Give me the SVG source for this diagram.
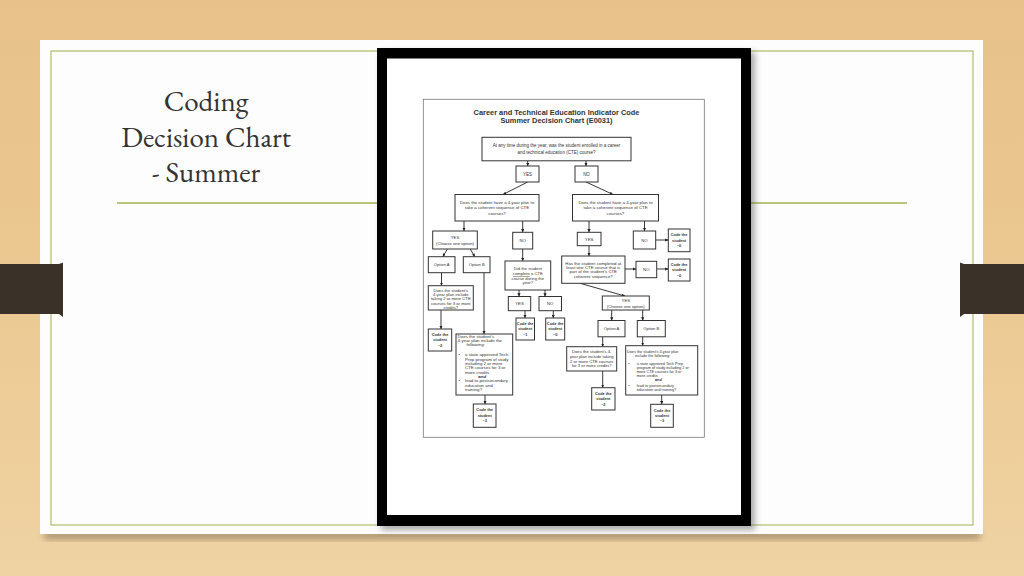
<svg xmlns="http://www.w3.org/2000/svg" width="1024" height="576" viewBox="0 0 1024 576">
<defs>
<style>
.box{fill:#fff;stroke:#333;stroke-width:1}
.t{font-family:"Liberation Sans",Arial,sans-serif;fill:#333;text-anchor:middle}
.l{font-family:"Liberation Sans",Arial,sans-serif;fill:#333;text-anchor:start}
.b{font-weight:bold}
.conn{stroke:#222;stroke-width:0.9;fill:none;marker-end:url(#ah)}
.title{font-family:"EB Garamond","Liberation Serif","Times New Roman",serif;fill:#333;text-anchor:middle;font-size:29px}
</style>
<marker id="ah" viewBox="0 0 6 6" refX="6" refY="3" markerWidth="3.2" markerHeight="3.2" orient="auto" markerUnits="userSpaceOnUse"><path d="M0,0 L6,3 L0,6 z" fill="#222"/></marker>
<linearGradient id="wood" x1="0" y1="0" x2="0" y2="1">
<stop offset="0" stop-color="#e7c189"/>
<stop offset="0.5" stop-color="#ecc992"/>
<stop offset="1" stop-color="#efd3a3"/>
</linearGradient>
<filter id="sh" x="-10%" y="-10%" width="130%" height="130%"><feGaussianBlur stdDeviation="3"/></filter>
</defs>

<g id="background">
<rect x="0" y="0" width="1024" height="576" fill="url(#wood)"/>
<rect x="44" y="530" width="936" height="10" fill="#6b5a45" opacity="0.45" filter="url(#sh)"/>
<rect x="40" y="40" width="943" height="494" fill="#fdfdfd"/>
<rect x="51" y="51" width="922" height="474" fill="none" stroke="#9fb24c" stroke-width="1"/>
<line x1="117" y1="203" x2="907" y2="203" stroke="#9fb24c" stroke-width="1.5"/>
</g>

<g id="tabs">
<path d="M0,264 H59 L63,262.5 V317 L59,314 H0 Z" fill="#3a3129"/>
<path d="M1024,264 H964 L960,262.5 V317 L964,314 H1024 Z" fill="#3a3129"/>
</g>

<g id="slide-title">
<text class="title" x="206" y="111">Coding</text>
<text class="title" x="206" y="147">Decision Chart</text>
<text class="title" x="206" y="182">- Summer</text>
</g>

<g id="frame">
<rect x="381" y="52" width="374" height="478" fill="#555" opacity="0.5" filter="url(#sh)"/>
<rect x="377" y="48" width="374" height="478" fill="#000"/>
<rect x="387" y="58.5" width="354" height="456.5" fill="#fff"/>
<rect x="423.3" y="99.3" width="281" height="338" fill="none" stroke="#777" stroke-width="0.8"/>
</g>

<g id="chart-title">
<text class="t b" x="556.5" y="115.3" font-size="7.4">Career and Technical Education Indicator Code</text>
<text class="t b" x="556.5" y="123.3" font-size="7.4">Summer Decision Chart (E0031)</text>
</g>

<g id="connectors">
<line class="conn" x1="527.7" y1="160.8" x2="527.7" y2="166"/>
<line class="conn" x1="586" y1="160.8" x2="586" y2="166"/>
<line class="conn" x1="527.7" y1="182" x2="503" y2="194.5"/>
<line class="conn" x1="586" y1="182" x2="613" y2="194.5"/>
<line class="conn" x1="464" y1="221" x2="464" y2="231"/>
<line class="conn" x1="522.7" y1="221" x2="522.7" y2="232.3"/>
<line class="conn" x1="589" y1="221" x2="589" y2="232.3"/>
<line class="conn" x1="644.5" y1="221" x2="644.5" y2="231"/>
<line class="conn" x1="655.7" y1="240" x2="668.3" y2="240"/>
<line class="conn" x1="447.4" y1="249" x2="442.8" y2="256.7"/>
<line class="conn" x1="470.3" y1="249" x2="474.8" y2="256.7"/>
<line class="conn" x1="441.5" y1="272.7" x2="441.5" y2="285.7"/>
<line class="conn" x1="441" y1="310" x2="441" y2="329"/>
<line class="conn" x1="484" y1="272.7" x2="484" y2="334"/>
<line class="conn" x1="485" y1="395" x2="485" y2="404"/>
<line class="conn" x1="522.7" y1="249" x2="522.7" y2="261"/>
<line class="conn" x1="519" y1="290" x2="519" y2="296.5"/>
<line class="conn" x1="545" y1="290" x2="545" y2="296.5"/>
<line class="conn" x1="525" y1="310.7" x2="525" y2="318"/>
<line class="conn" x1="553.3" y1="310.7" x2="553.3" y2="318"/>
<line class="conn" x1="589" y1="245.7" x2="589" y2="256"/>
<line class="conn" x1="625" y1="269" x2="636" y2="269"/>
<line class="conn" x1="656.7" y1="269" x2="668.3" y2="269"/>
<line class="conn" x1="580" y1="283.3" x2="625" y2="296"/>
<line class="conn" x1="611.7" y1="310" x2="611.7" y2="320.5"/>
<line class="conn" x1="642.7" y1="310" x2="642.7" y2="320.5"/>
<line class="conn" x1="602.7" y1="336.8" x2="602.7" y2="346.7"/>
<line class="conn" x1="642.7" y1="336.8" x2="642.7" y2="345.7"/>
<line class="conn" x1="602.7" y1="371" x2="602.7" y2="387.7"/>
<line class="conn" x1="661.7" y1="395" x2="661.7" y2="404.3"/>
</g>

<g id="n-start">
<rect class="box" x="482" y="137.3" width="149" height="23.5"/>
<text class="t" x="556.5" y="147" font-size="4.5">At any time during the year, was the student enrolled in a career</text>
<text class="t" x="556.5" y="154" font-size="4.5">and technical education (CTE) course?</text>
</g>
<g id="n-yes1"><rect class="box" x="516" y="166" width="23" height="16"/><text class="t" x="527.5" y="175.6" font-size="4.5">YES</text></g>
<g id="n-no1"><rect class="box" x="575" y="166" width="23" height="16"/><text class="t" x="586.5" y="175.6" font-size="4.5">NO</text></g>

<g id="n-lq">
<rect class="box" x="455" y="194.5" width="84" height="26.5"/>
<text class="t" x="497" y="204" font-size="4.3">Does the student have a 4-year plan to</text>
<text class="t" x="497" y="209.4" font-size="4.3">take a coherent sequence of CTE</text>
<text class="t" x="497" y="214.6" font-size="4.3">courses?</text>
</g>
<g id="n-rq">
<rect class="box" x="572.5" y="194.5" width="86" height="26.5"/>
<text class="t" x="615.5" y="204" font-size="4.3">Does the student have a 4-year plan to</text>
<text class="t" x="615.5" y="209.4" font-size="4.3">take a coherent sequence of CTE</text>
<text class="t" x="615.5" y="214.6" font-size="4.3">courses?</text>
</g>

<g id="n-lyes">
<rect class="box" x="432.7" y="231" width="44.6" height="18"/>
<text class="t" x="455" y="238.6" font-size="4.2">YES</text>
<text class="t" x="455" y="245" font-size="4.2">(Choose one option)</text>
</g>
<g id="n-mno"><rect class="box" x="512.7" y="232.3" width="20" height="16.7"/><text class="t" x="522.7" y="242.2" font-size="4.3">NO</text></g>
<g id="n-lopta"><rect class="box" x="428.3" y="256.7" width="26.7" height="16"/><text class="t" x="441.7" y="266.2" font-size="4.1">Option A</text></g>
<g id="n-loptb"><rect class="box" x="463.3" y="256.7" width="26.7" height="16"/><text class="t" x="476.7" y="266.2" font-size="4.1">Option B</text></g>

<g id="n-did">
<rect class="box" x="505" y="261" width="45.7" height="29"/>
<text class="t" x="527.8" y="270.3" font-size="4.2">Did the student</text>
<text class="t" x="527.8" y="275" font-size="4.2"><tspan text-decoration="underline">complete</tspan> a CTE</text>
<text class="t" x="527.8" y="279.7" font-size="4.2">course during the</text>
<text class="t" x="527.8" y="284.4" font-size="4.2">year?</text>
</g>

<g id="n-lq2">
<rect class="box" x="428.3" y="285.7" width="45" height="24.3"/>
<text class="t" x="450.8" y="291.6" font-size="4.2">Does the student's</text>
<text class="t" x="450.8" y="295.9" font-size="4.2">4-year plan include</text>
<text class="t" x="450.8" y="300.2" font-size="4.2">taking 2 or more CTE</text>
<text class="t" x="450.8" y="304.5" font-size="4.2">courses for 3 or more</text>
<text class="t" x="450.8" y="308.8" font-size="4.2">credits?</text>
</g>

<g id="n-myes2"><rect class="box" x="508.3" y="296.5" width="22.4" height="14.2"/><text class="t" x="519.5" y="305.2" font-size="4.3">YES</text></g>
<g id="n-mno2"><rect class="box" x="539" y="296.5" width="22.5" height="14.2"/><text class="t" x="550.2" y="305.2" font-size="4.3">NO</text></g>

<g id="n-code1">
<rect class="box" x="516" y="318" width="18.5" height="22"/>
<text class="t b" x="525.2" y="325" font-size="3.9">Code the</text>
<text class="t b" x="525.2" y="330.2" font-size="3.9">student</text>
<text class="t b" x="525.2" y="335.6" font-size="3.9">–1</text>
</g>
<g id="n-code0m">
<rect class="box" x="545.7" y="318" width="19" height="22"/>
<text class="t b" x="555.2" y="325" font-size="3.9">Code the</text>
<text class="t b" x="555.2" y="330.2" font-size="3.9">student</text>
<text class="t b" x="555.2" y="335.6" font-size="3.9">–0</text>
</g>
<g id="n-code2l">
<rect class="box" x="428.3" y="329" width="23.4" height="22"/>
<text class="t b" x="440" y="336" font-size="3.9">Code the</text>
<text class="t b" x="440" y="341.2" font-size="3.9">student</text>
<text class="t b" x="440" y="346.6" font-size="3.9">–2</text>
</g>

<g id="n-bigl">
<rect class="box" x="456" y="334" width="56.7" height="61"/>
<text class="l" x="457.6" y="338" font-size="4.4">Does the student's</text>
<text class="l" x="457.6" y="342.2" font-size="4.4">4-year plan include the</text>
<text class="l" x="466.5" y="346.4" font-size="4.4">following:</text>
<text class="l" x="458.6" y="356.3" font-size="4.4">•</text>
<text class="l" x="465" y="356.3" font-size="4.4">a state approved Tech</text>
<text class="l" x="465" y="360.6" font-size="4.4">Prep program of study</text>
<text class="l" x="465" y="364.9" font-size="4.4">including 2 or more</text>
<text class="l" x="465" y="369.2" font-size="4.4">CTE courses for 3 or</text>
<text class="l" x="465" y="373.5" font-size="4.4">more credits</text>
<text class="l b" x="478.3" y="377.8" font-size="4.4" font-style="italic">and</text>
<text class="l" x="458.6" y="382.4" font-size="4.4">•</text>
<text class="l" x="465" y="382.4" font-size="4.4">lead to postsecondary</text>
<text class="l" x="465" y="386.7" font-size="4.4">education and</text>
<text class="l" x="465" y="391" font-size="4.4">training?</text>
</g>
<g id="n-code3l">
<rect class="box" x="473.3" y="404" width="22.7" height="23.3"/>
<text class="t b" x="484.7" y="411.4" font-size="3.9">Code the</text>
<text class="t b" x="484.7" y="416.6" font-size="3.9">student</text>
<text class="t b" x="484.7" y="422" font-size="3.9">–3</text>
</g>

<g id="n-ryes"><rect class="box" x="577.3" y="232.3" width="23.7" height="13.4"/><text class="t" x="589.1" y="240.5" font-size="4.3">YES</text></g>
<g id="n-rno"><rect class="box" x="633.3" y="231" width="22.4" height="18"/><text class="t" x="644.5" y="241.5" font-size="4.3">NO</text></g>
<g id="n-code0a">
<rect class="box" x="668.3" y="229" width="21.7" height="22.7"/>
<text class="t b" x="679.1" y="236.3" font-size="3.9">Code the</text>
<text class="t b" x="679.1" y="241.5" font-size="3.9">student</text>
<text class="t b" x="679.1" y="246.9" font-size="3.9">–0</text>
</g>

<g id="n-has">
<rect class="box" x="561.7" y="256" width="63.3" height="27.3" stroke-width="1.6"/>
<text class="t" x="593.3" y="264.6" font-size="4.3">Has the student completed at</text>
<text class="t" x="593.3" y="269" font-size="4.3">least one CTE course that is</text>
<text class="t" x="593.3" y="273.4" font-size="4.3">part of the student's CTE</text>
<text class="t" x="593.3" y="277.8" font-size="4.3">coherent sequence?</text>
</g>
<g id="n-rno2"><rect class="box" x="636" y="261.3" width="20.7" height="16.4"/><text class="t" x="646.3" y="271" font-size="4.3">NO</text></g>
<g id="n-code0b">
<rect class="box" x="668.3" y="259" width="21.7" height="22"/>
<text class="t b" x="679.1" y="266" font-size="3.9">Code the</text>
<text class="t b" x="679.1" y="271.2" font-size="3.9">student</text>
<text class="t b" x="679.1" y="276.6" font-size="3.9">–0</text>
</g>

<g id="n-ryes2">
<rect class="box" x="602.3" y="296" width="47" height="14"/>
<text class="t" x="625.8" y="302.4" font-size="4.2">YES</text>
<text class="t" x="625.8" y="308" font-size="4.2">(Choose one option)</text>
</g>
<g id="n-ropta"><rect class="box" x="598" y="320.5" width="27" height="16.3"/><text class="t" x="611.5" y="330.2" font-size="4.1">Option A</text></g>
<g id="n-roptb"><rect class="box" x="637.3" y="320.5" width="28" height="16.3"/><text class="t" x="651.3" y="330.2" font-size="4.1">Option B</text></g>

<g id="n-rq2">
<rect class="box" x="566.7" y="346.7" width="50" height="24.3"/>
<text class="t" x="591.7" y="353.4" font-size="4.2">Does the student's 4-</text>
<text class="t" x="591.7" y="358" font-size="4.2">year plan include taking</text>
<text class="t" x="591.7" y="362.6" font-size="4.2">2 or more CTE courses</text>
<text class="t" x="591.7" y="367.2" font-size="4.2">for 3 or more credits?</text>
</g>
<g id="n-code2r">
<rect class="box" x="591.7" y="387.7" width="23.3" height="22.3"/>
<text class="t b" x="603.3" y="395" font-size="3.9">Code the</text>
<text class="t b" x="603.3" y="400.2" font-size="3.9">student</text>
<text class="t b" x="603.3" y="405.6" font-size="3.9">–2</text>
</g>

<g id="n-bigr">
<rect class="box" x="625.7" y="345.7" width="72" height="49.3"/>
<text class="l" x="627" y="353.3" font-size="3.8">Does the student's 4-year plan</text>
<text class="l" x="635" y="357" font-size="3.8">include the following:</text>
<text class="l" x="628.3" y="365" font-size="3.8">•</text>
<text class="l" x="636.7" y="365" font-size="3.8">a state approved Tech Prep</text>
<text class="l" x="636.7" y="369" font-size="3.8">program of study including 2 or</text>
<text class="l" x="636.7" y="373" font-size="3.8">more CTE courses for 3 or</text>
<text class="l" x="636.7" y="377" font-size="3.8">more credits</text>
<text class="l b" x="655" y="381" font-size="3.8" font-style="italic">and</text>
<text class="l" x="628.3" y="386.7" font-size="3.8">•</text>
<text class="l" x="636.7" y="386.7" font-size="3.8">lead to postsecondary</text>
<text class="l" x="636.7" y="390.7" font-size="3.8">education and training?</text>
</g>
<g id="n-code3r">
<rect class="box" x="650.7" y="404.3" width="22.6" height="23"/>
<text class="t b" x="662" y="411.7" font-size="3.9">Code the</text>
<text class="t b" x="662" y="416.9" font-size="3.9">student</text>
<text class="t b" x="662" y="422.3" font-size="3.9">–3</text>
</g>
</svg>
